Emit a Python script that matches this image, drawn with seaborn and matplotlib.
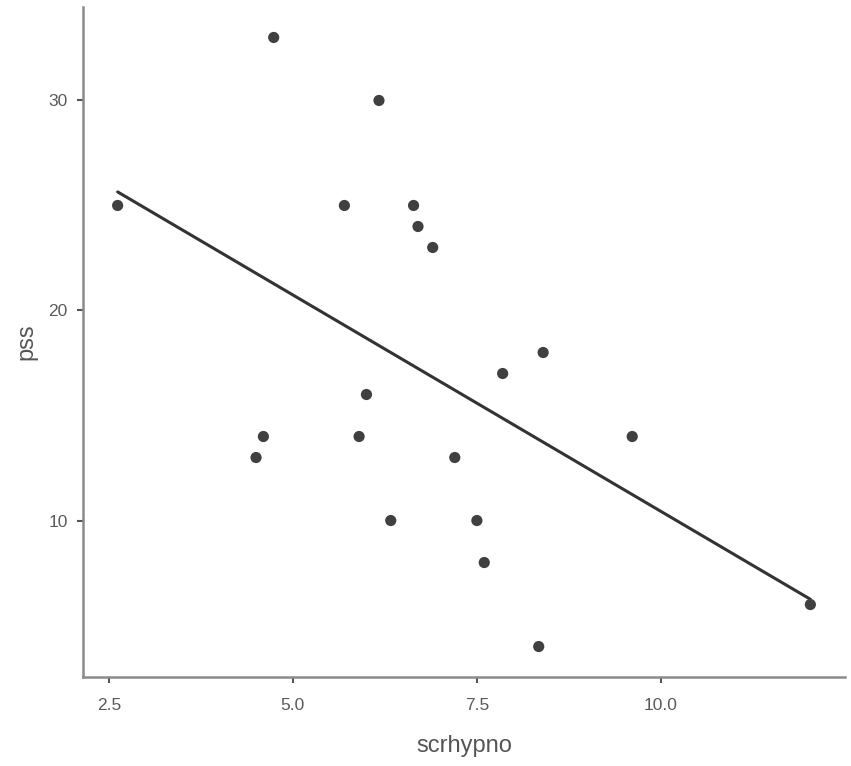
import numpy as np
import pandas as pd
import matplotlib
matplotlib.use("Agg")
import matplotlib.pyplot as plt
import seaborn as sns

scrhypno = [2.62, 4.74, 6.17, 5.70, 6.64, 6.70, 6.90, 8.40, 7.85, 6.00,
            4.60, 5.90, 9.61, 4.50, 7.20, 6.33, 7.50, 7.60, 8.34, 12.03]
pss = [25, 33, 30, 25, 25, 24, 23, 18, 17, 16,
       14, 14, 14, 13, 13, 10, 10, 8, 4, 6]
x_ticks = [2.5, 5.0, 7.5, 10.0]
y_ticks = [10, 20, 30]

df = pd.DataFrame({"scrhypno": scrhypno, "pss": pss})

sns.set_theme(style="white")
plt.rcParams['font.family'] = ['Liberation Sans', 'DejaVu Sans']

fig = plt.figure(figsize=(8.51, 7.66), dpi=100)
ax = fig.add_axes([83 / 851, 1 - 677 / 766, (845 - 83) / 851, (677 - 7) / 766])

sns.regplot(data=df, x="scrhypno", y="pss", ax=ax, ci=None, truncate=True,
            scatter_kws=dict(s=65, color="#404040", edgecolor="none", alpha=1, zorder=3),
            line_kws=dict(color="#333333", lw=2.2, zorder=2, solid_capstyle="round"))

xmin, xmax = min(scrhypno), max(scrhypno)
ymin, ymax = min(pss), max(pss)
xr, yr = xmax - xmin, ymax - ymin
ax.set_xlim(xmin - 0.05 * xr, xmax + 0.05 * xr)
ax.set_ylim(ymin - 0.05 * yr, ymax + 0.05 * yr)

ax.set_xticks(x_ticks)
ax.set_xticklabels([f"{v:.1f}" for v in x_ticks])
ax.set_yticks(y_ticks)
ax.set_yticklabels([str(v) for v in y_ticks])

for side in ["top", "right"]:
    ax.spines[side].set_visible(False)
for side in ["left", "bottom"]:
    ax.spines[side].set_color("#8a8a8a")
    ax.spines[side].set_linewidth(1.8)

ax.tick_params(axis="both", which="major", length=4, width=1.5, color="#555555",
               labelsize=12.5, labelcolor="#5a5a5a", pad=7, direction="out",
               bottom=True, left=True)
ax.tick_params(axis="x", pad=11)

ax.set_xlabel("scrhypno", fontsize=17, color="#555555", labelpad=16)
ax.set_ylabel("pss", fontsize=17, color="#555555", labelpad=8)
ax.grid(False)
ax.set_facecolor("white")
fig.patch.set_facecolor("white")

fig.savefig("out.png", dpi=100, facecolor="white")
